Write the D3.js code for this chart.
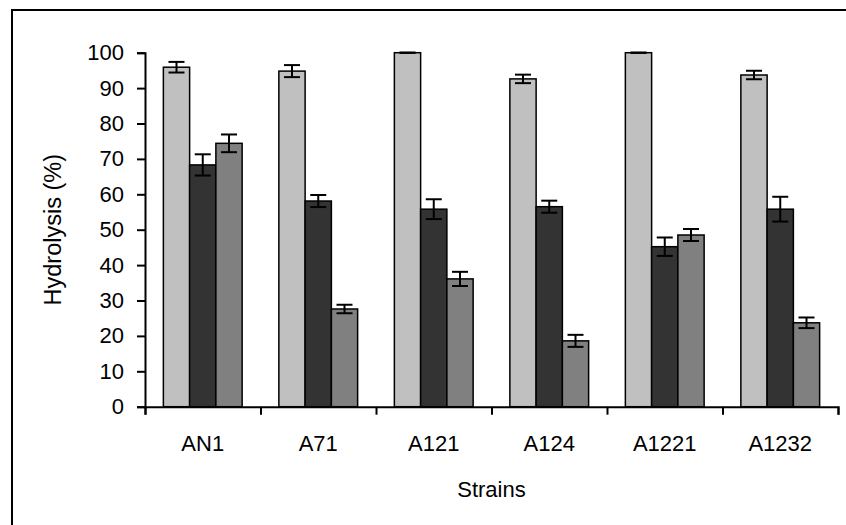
<!DOCTYPE html>
<html>
<head>
<meta charset="utf-8">
<script src="https://cdn.jsdelivr.net/npm/d3@7"></script>
<style>
  body { margin: 0; background: #fff; }
  svg text { font-family: "Liberation Sans", Arial, sans-serif; fill: #000; }
</style>
</head>
<body>
<div id="chart"></div>
<script>
// Data
const strains = ['AN1', 'A71', 'A121', 'A124', 'A1221', 'A1232'];
const seriesKeys = ['s1', 's2', 's3'];
const seriesColors = ['#c0c0c0', '#333333', '#808080'];
const values1 = [95.9, 94.8, 100, 92.6, 100, 93.7];
const errors1 = [1.5, 1.7, 0, 1.2, 0, 1.2];
const values2 = [68.3, 58.1, 55.8, 56.5, 45.2, 55.8];
const errors2 = [3.0, 1.7, 2.8, 1.7, 2.6, 3.5];
const values3 = [74.4, 27.6, 36.1, 18.6, 48.5, 23.7];
const errors3 = [2.5, 1.2, 2.0, 1.7, 1.7, 1.5];
const yTicks = [0, 10, 20, 30, 40, 50, 60, 70, 80, 90, 100];

const width = 846, height = 525;
const margin = {top: 52.7, right: 8, bottom: 118.3, left: 145};
const plotW = width - margin.left - margin.right;
const plotH = height - margin.top - margin.bottom;

const allValues = [values1, values2, values3];
const allErrors = [errors1, errors2, errors3];

const rows = [];
strains.forEach((s, i) => {
    seriesKeys.forEach((k, j) => {
        rows.push({strain: s, key: k, value: allValues[j][i], err: allErrors[j][i], color: seriesColors[j]});
    });
});

const svg = d3.select('#chart')
    .append('svg')
    .attr('width', width)
    .attr('height', height);

// Outer frame (runs off the right and bottom of the picture)
svg.append('rect')
    .attr('x', 12)
    .attr('y', 10)
    .attr('width', 900)
    .attr('height', 600)
    .attr('fill', 'none')
    .attr('stroke', '#000')
    .attr('stroke-width', 2);

const g = svg.append('g')
    .attr('transform', `translate(${margin.left},${margin.top})`);

// Scales
const x = d3.scaleBand()
    .domain(strains)
    .range([0, plotW])
    .padding(0);

const groupW = x.bandwidth() * 0.682;
const xInner = d3.scaleBand()
    .domain(seriesKeys)
    .range([(x.bandwidth() - groupW) / 2, (x.bandwidth() + groupW) / 2])
    .padding(0);

const y = d3.scaleLinear()
    .domain([0, 100])
    .range([plotH, 0]);

// Bars
g.selectAll('.bar')
    .data(rows)
    .enter()
    .append('rect')
    .attr('class', 'bar')
    .attr('x', d => x(d.strain) + xInner(d.key))
    .attr('y', d => y(d.value))
    .attr('width', xInner.bandwidth())
    .attr('height', d => plotH - y(d.value))
    .attr('fill', d => d.color)
    .attr('stroke', '#000')
    .attr('stroke-width', 1.5);

// Error bars
const capHalf = 8;
const cx = d => x(d.strain) + xInner(d.key) + xInner.bandwidth() / 2;
const errs = g.selectAll('.err')
    .data(rows)
    .enter()
    .append('g')
    .attr('class', 'err')
    .attr('stroke', '#000')
    .attr('stroke-width', 2);

errs.append('line')
    .attr('x1', cx)
    .attr('x2', cx)
    .attr('y1', d => y(d.value - d.err))
    .attr('y2', d => y(d.value + d.err));

errs.append('line')
    .attr('x1', d => cx(d) - capHalf)
    .attr('x2', d => cx(d) + capHalf)
    .attr('y1', d => y(d.value + d.err))
    .attr('y2', d => y(d.value + d.err));

errs.append('line')
    .attr('x1', d => cx(d) - capHalf)
    .attr('x2', d => cx(d) + capHalf)
    .attr('y1', d => y(d.value - d.err))
    .attr('y2', d => y(d.value - d.err));

// Y axis
const yAxis = d3.axisLeft(y)
    .tickValues(yTicks)
    .tickSize(8)
    .tickPadding(13)
    .tickFormat(d3.format('d'));

g.append('g')
    .attr('class', 'y-axis')
    .call(yAxis);

// X axis: ticks at category boundaries, labels at centres
const xBound = d3.scaleLinear()
    .domain([0, strains.length])
    .range([0, plotW]);

g.append('g')
    .attr('class', 'x-axis')
    .attr('transform', `translate(0,${plotH})`)
    .call(d3.axisBottom(xBound).ticks(strains.length).tickSize(8).tickFormat(''));

const xLab = g.append('g')
    .attr('class', 'x-labels')
    .attr('transform', `translate(0,${plotH})`)
    .call(d3.axisBottom(x).tickSize(0).tickPadding(29));

xLab.select('.domain').remove();

g.selectAll('.domain')
    .attr('stroke', '#000')
    .attr('stroke-width', 2);

g.selectAll('.tick line')
    .attr('stroke', '#000')
    .attr('stroke-width', 2);

g.selectAll('.tick text')
    .style('font-size', '22px')
    .style('font-family', '"Liberation Sans", Arial, sans-serif')
    .attr('fill', '#000');

// Axis titles
g.append('text')
    .attr('text-anchor', 'middle')
    .attr('transform', 'rotate(-90)')
    .attr('x', -plotH / 2)
    .attr('y', -84)
    .style('font-size', '23.5px')
    .text('Hydrolysis (%)');

g.append('text')
    .attr('text-anchor', 'middle')
    .attr('x', plotW / 2)
    .attr('y', plotH + 90)
    .style('font-size', '22px')
    .text('Strains');
</script>
</body>
</html>
